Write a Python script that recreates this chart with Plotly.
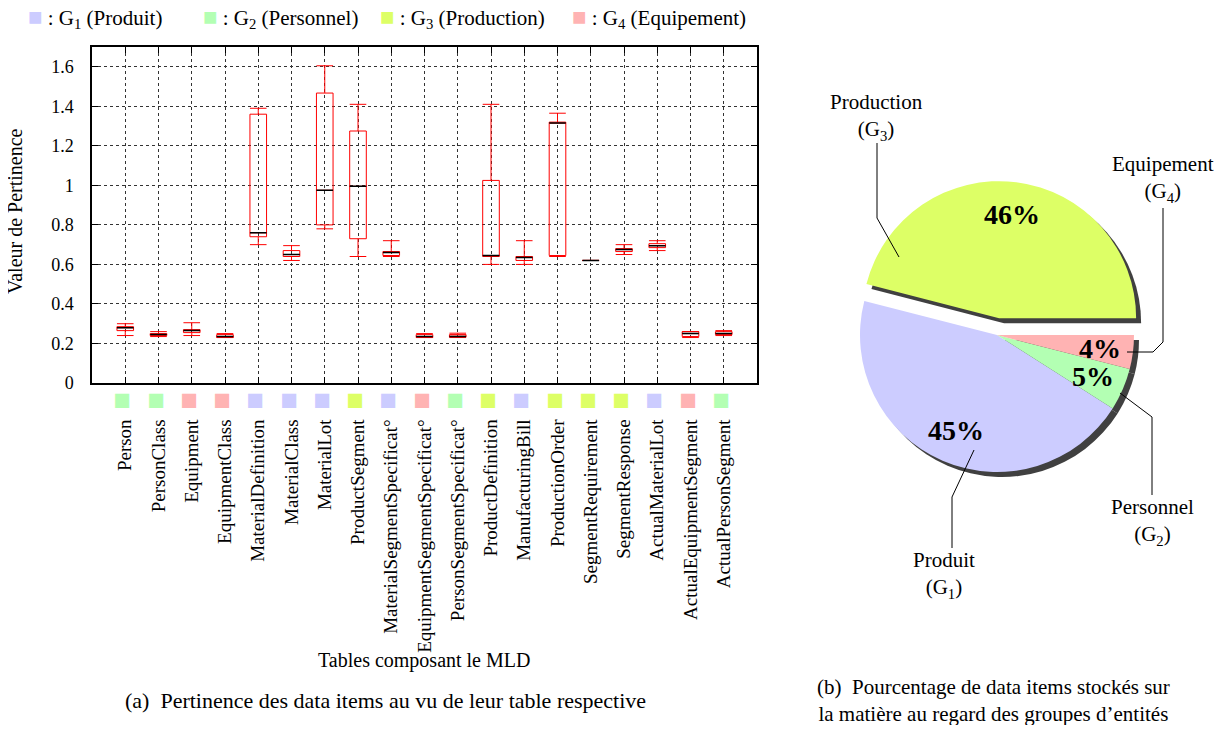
import math
import plotly.graph_objects as go

# Données du boxplot (a)
tables = ["Person", "PersonClass", "Equipment", "EquipmentClass", "MaterialDefinition",
          "MaterialClass", "MaterialLot", "ProductSegment", "MaterialSegmentSpecificat°",
          "EquipmentSegmentSpecificat°", "PersonSegmentSpecificat°", "ProductDefinition",
          "ManufacturingBill", "ProductionOrder", "SegmentRequirement", "SegmentResponse",
          "ActualMaterialLot", "ActualEquipmentSegment", "ActualPersonSegment"]
groupes = ["G2", "G2", "G4", "G4", "G1", "G1", "G1", "G3", "G1", "G4",
           "G2", "G3", "G1", "G3", "G3", "G3", "G1", "G4", "G2"]
mins = [0.24, 0.235, 0.24, 0.23, 0.70, 0.62, 0.78, 0.64, 0.64, 0.23,
        0.23, 0.60, 0.60, 0.64, 0.62, 0.65, 0.67, 0.23, 0.24]
q1s = [0.265, 0.24, 0.255, 0.23, 0.74, 0.64, 0.80, 0.73, 0.645, 0.23,
       0.232, 0.64, 0.62, 0.645, 0.62, 0.665, 0.685, 0.235, 0.245]
medianes = [0.28, 0.245, 0.265, 0.235, 0.76, 0.65, 0.975, 0.995, 0.66, 0.235,
            0.235, 0.645, 0.635, 1.315, 0.62, 0.675, 0.695, 0.25, 0.25]
q3s = [0.285, 0.25, 0.27, 0.245, 1.36, 0.67, 1.467, 1.275, 0.665, 0.245,
       0.245, 1.025, 0.64, 1.32, 0.62, 0.68, 0.705, 0.26, 0.26]
maxs = [0.30, 0.26, 0.305, 0.25, 1.39, 0.695, 1.605, 1.41, 0.72, 0.25,
        0.252, 1.41, 0.72, 1.365, 0.62, 0.70, 0.72, 0.26, 0.265]

# Données du camembert (b)
pie_groupes = ["G3", "G1", "G2", "G4"]
pie_valeurs = [46, 45, 5, 4]
pie_pull = [0.124, 0, 0, 0]

# Légende des groupes
legende_groupes = ["G1", "G2", "G3", "G4"]
legende_noms = ["Produit", "Personnel", "Production", "Equipement"]

couleurs = {"G1": "#ccccff", "G2": "#b3ffb3", "G3": "#ddff66", "G4": "#ffb3b3"}
SERIF = "Liberation Serif, Times New Roman, serif"
# la page a une marge de 8px autour de la figure
M = 8
W, H = 1224 - 2 * M, 733 - 2 * M


def px(x):
    return (x - M) / W


def py(y):
    return 1 - (y - M) / H


def note(x, y, txt, size=20, xanchor="center", **kw):
    return dict(x=px(x), y=py(y), xref="paper", yref="paper", showarrow=False,
                xanchor=xanchor, yanchor="middle", text=txt,
                font=dict(family=SERIF, size=size, color="black"), **kw)


fig = go.Figure()

# boîtes rouges
fig.add_trace(go.Box(
    x=tables, q1=q1s, median=medianes, q3=q3s,
    lowerfence=mins, upperfence=maxs,
    width=0.5, whiskerwidth=1,
    fillcolor="rgba(0,0,0,0)",
    line=dict(color="#ff0000", width=1),
    showlegend=False, hoverinfo="skip"
))
# médiane en noir
fig.add_trace(go.Box(
    x=tables, q1=medianes, median=medianes, q3=medianes,
    lowerfence=medianes, upperfence=medianes,
    width=0.5, whiskerwidth=1,
    fillcolor="rgba(0,0,0,0)",
    line=dict(color="#000000", width=1.5),
    showlegend=False, hoverinfo="skip"
))

# camembert : ombre puis secteurs (premier secteur partant de 3h, sens anti-horaire)
total = sum(pie_valeurs)
rot = 90 - 360 * pie_valeurs[0] / total
cx, cy, r = 997, 335, 137
demi = r * (1 + max(pie_pull))
dom_x = [px(cx - demi), px(cx + demi)]
dom_y = [py(cy + demi), py(cy - demi)]
dx, dy = 5, 5
fig.add_trace(go.Pie(
    labels=pie_groupes, values=pie_valeurs, pull=pie_pull, sort=False,
    direction="counterclockwise", rotation=rot,
    marker=dict(colors=["#404040"] * 4, line=dict(width=0)),
    textposition="none", hoverinfo="skip", showlegend=False,
    domain=dict(x=[dom_x[0] + dx / W, dom_x[1] + dx / W], y=[dom_y[0] - dy / H, dom_y[1] - dy / H])
))
fig.add_trace(go.Pie(
    labels=pie_groupes, values=pie_valeurs, pull=pie_pull, sort=False,
    direction="counterclockwise", rotation=rot,
    marker=dict(colors=[couleurs[g] for g in pie_groupes], line=dict(width=0)),
    textposition="none", hoverinfo="skip", showlegend=False,
    domain=dict(x=dom_x, y=dom_y)
))

# pourcentages dans les secteurs
annotations = []
debut = 0
for g, v, p in zip(pie_groupes, pie_valeurs, pie_pull):
    mid = math.radians(debut + v / total * 180)
    debut += v / total * 360
    rr = 0.76 * r + p * r
    annotations.append(note(cx + rr * math.cos(mid), cy - rr * math.sin(mid), f"<b>{v}%</b>", size=28))

# étiquettes externes du camembert
for txt, x, y in [("Production<br>(G<sub>3</sub>)", 876, 117),
                  ("Equipement<br>(G<sub>4</sub>)", 1163, 179),
                  ("Personnel<br>(G<sub>2</sub>)", 1152, 522),
                  ("Produit<br>(G<sub>1</sub>)", 944, 575)]:
    annotations.append(note(x, y, txt, size=21))

shapes = []
for pts in [[(877, 143), (877, 218), (899, 257)],
            [(1163, 208), (1163, 342), (1153, 352), (1127, 352)],
            [(1152, 495), (1152, 417), (1120, 393)],
            [(952, 548), (952, 497), (974, 450)]]:
    shapes.append(dict(type="path", xref="paper", yref="paper",
                       path="M " + " L ".join(f"{px(a)},{py(b)}" for a, b in pts),
                       line=dict(color="black", width=1)))

# légende du haut
for g, nom, x0 in zip(legende_groupes, legende_noms, [26, 201, 378, 570]):
    txt = (f"<span style='color:{couleurs[g]};font-size:24px'>■</span>"
           f" : G<sub>{g[1]}</sub> ({nom})")
    annotations.append(note(x0, 18, txt, size=21, xanchor="left"))

# titres d'axes et légendes des figures
annotations += [
    note(15, 211, "Valeur de Pertinence", textangle=-90),
    note(424, 660, "Tables composant le MLD"),
    note(385, 700, "(a)&nbsp;&nbsp;Pertinence des data items au vu de leur table respective", size=22),
    note(993, 700, "(b)&nbsp;&nbsp;Pourcentage de data items stockés sur<br>la matière au regard des groupes d’entités",
         size=21),
]

ticktext = [f"{t}  <span style='color:{couleurs[g]};font-size:29px'>■</span>"
            for t, g in zip(tables, groupes)]

fig.update_layout(
    width=W, height=H,
    margin=dict(l=0, r=0, t=0, b=0),
    paper_bgcolor="white", plot_bgcolor="white",
    font=dict(family=SERIF, size=18, color="black"),
    boxmode="overlay",
    xaxis=dict(
        domain=[px(92), px(757)], type="category", range=[-1, 19],
        tickvals=tables, ticktext=ticktext, tickangle=-90,
        tickfont=dict(family=SERIF, size=19, color="black"),
        ticks="inside", ticklen=6, tickcolor="black", mirror="allticks",
        showline=True, linecolor="black", linewidth=1.5,
        showgrid=True, gridcolor="#333333", griddash="dot", gridwidth=1,
        automargin=False
    ),
    yaxis=dict(
        domain=[py(383), py(47)], range=[0, 1.7],
        tickvals=[0, 0.2, 0.4, 0.6, 0.8, 1, 1.2, 1.4, 1.6],
        tickfont=dict(family=SERIF, size=18, color="black"),
        ticks="inside", ticklen=6, tickcolor="black", mirror="allticks",
        showline=True, linecolor="black", linewidth=1.5,
        showgrid=True, gridcolor="#333333", griddash="dot", gridwidth=1,
        zeroline=False, ticklabelstandoff=13, automargin=False
    ),
    annotations=annotations,
    shapes=shapes
)

fig.write_html("out.html")
